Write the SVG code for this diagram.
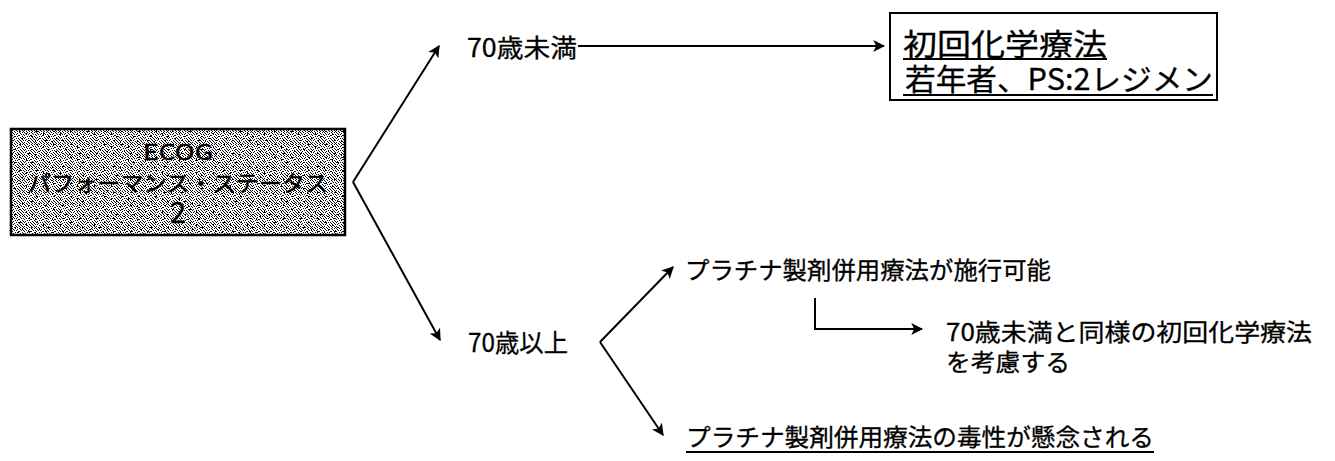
<svg xmlns="http://www.w3.org/2000/svg" width="1335" height="461" viewBox="0 0 1335 461">
<style>
.t{font-family:"Noto Sans CJK JP","Liberation Sans",sans-serif;fill:#000;stroke:#000;stroke-width:0.3}
.e{font-family:"Noto Sans CJK JP","Liberation Sans",sans-serif;fill:#000;stroke:#000;stroke-width:0.4}
.c{stroke:#000;stroke-width:2;fill:none}
.u{stroke:#000;stroke-width:1.8}
</style>
<defs>
<marker id="ah" viewBox="0 0 10 10" refX="9" refY="5" markerWidth="12" markerHeight="12" markerUnits="userSpaceOnUse" orient="auto">
<path d="M0 0L10 5L0 10L2.5 5z" fill="#000"/>
</marker>
<pattern id="st" width="12" height="12" patternUnits="userSpaceOnUse">
<rect width="12" height="12" fill="#fff"/>
<path fill="#000" d="M0 0h1v1h-1zM3 0h1v1h-1zM7 0h1v1h-1zM10 0h1v1h-1zM1 1h1v1h-1zM5 1h1v1h-1zM8 1h1v1h-1zM2 2h1v1h-1zM4 2h1v1h-1zM9 2h1v1h-1zM11 2h1v1h-1zM0 3h1v1h-1zM6 3h2v1h-2zM3 4h1v1h-1zM5 4h1v1h-1zM10 4h1v1h-1zM1 5h1v1h-1zM8 5h1v1h-1zM11 5h1v1h-1zM0 6h1v1h-1zM4 6h1v1h-1zM6 6h1v1h-1zM9 6h1v1h-1zM2 7h1v1h-1zM7 7h1v1h-1zM10 7h1v1h-1zM1 8h1v1h-1zM5 8h1v1h-1zM8 8h1v1h-1zM11 8h1v1h-1zM3 9h1v1h-1zM6 9h1v1h-1zM9 9h1v1h-1zM0 10h1v1h-1zM4 10h1v1h-1zM7 10h1v1h-1zM10 10h1v1h-1zM2 11h1v1h-1zM5 11h1v1h-1zM8 11h1v1h-1zM11 11h1v1h-1z"/>
</pattern>
<pattern id="st2" width="17" height="13" patternUnits="userSpaceOnUse">
<path fill="#000" d="M2 1h2v1h-2zM9 3h1v2h-1zM14 6h2v1h-2zM5 8h1v1h-1zM11 10h2v1h-2zM1 11h1v1h-1z"/>
</pattern>
</defs>

<g id="ecog">
<rect x="11" y="129" width="334" height="106" fill="url(#st)"/>
<rect x="11" y="129" width="334" height="106" fill="url(#st2)"/>
<rect x="11" y="129" width="334" height="106" fill="none" stroke="#000" stroke-width="2.5"/>
<text class="e" x="143" y="160" font-size="22" textLength="70" lengthAdjust="spacingAndGlyphs" font-family="Liberation Sans, sans-serif">ECOG</text>
<text class="e" x="28" y="191" font-size="22" textLength="300" lengthAdjust="spacingAndGlyphs">パフォーマンス・ステータス</text>
<text class="e" x="178" y="223" font-size="29" text-anchor="middle" font-family="Liberation Sans, sans-serif">2</text>
</g>

<g id="under70">
<text class="t" x="467" y="57" font-size="25" textLength="110" lengthAdjust="spacingAndGlyphs">70歳未満</text>
</g>

<g id="regimen">
<rect x="890" y="13" width="327" height="87" fill="#fff" stroke="#000" stroke-width="2"/>
<text class="t" x="903" y="55" font-size="30" textLength="204" lengthAdjust="spacingAndGlyphs">初回化学療法</text>
<line class="u" x1="903" y1="59" x2="1107" y2="59"/>
<text class="t" x="905" y="90" font-size="30" textLength="308" lengthAdjust="spacingAndGlyphs">若年者、PS:2レジメン</text>
<line class="u" x1="903" y1="95" x2="1213" y2="95"/>
</g>

<g id="over70">
<text class="t" x="468" y="352" font-size="25" textLength="100" lengthAdjust="spacingAndGlyphs">70歳以上</text>
</g>

<g id="possible">
<text class="t" x="685" y="279" font-size="24" textLength="366" lengthAdjust="spacingAndGlyphs">プラチナ製剤併用療法が施行可能</text>
</g>

<g id="same">
<text class="t" x="946" y="341" font-size="24" textLength="366" lengthAdjust="spacingAndGlyphs">70歳未満と同様の初回化学療法</text>
<text class="t" x="946" y="371" font-size="24" textLength="124" lengthAdjust="spacingAndGlyphs">を考慮する</text>
</g>

<g id="toxic">
<text class="t" x="686" y="446" font-size="24" textLength="468" lengthAdjust="spacingAndGlyphs">プラチナ製剤併用療法の毒性が懸念される</text>
<line class="u" x1="686" y1="452" x2="1154" y2="452"/>
</g>

<g id="connectors">
<line class="c" x1="353" y1="182" x2="439" y2="46" marker-end="url(#ah)"/>
<line class="c" x1="353" y1="182" x2="440" y2="340" marker-end="url(#ah)"/>
<line class="c" x1="578" y1="46" x2="884" y2="46" marker-end="url(#ah)"/>
<line class="c" x1="600" y1="342" x2="673" y2="267" marker-end="url(#ah)"/>
<line class="c" x1="600" y1="342" x2="663" y2="435" marker-end="url(#ah)"/>
<polyline class="c" points="815,298 815,329 922,329" marker-end="url(#ah)"/>
</g>
</svg>
